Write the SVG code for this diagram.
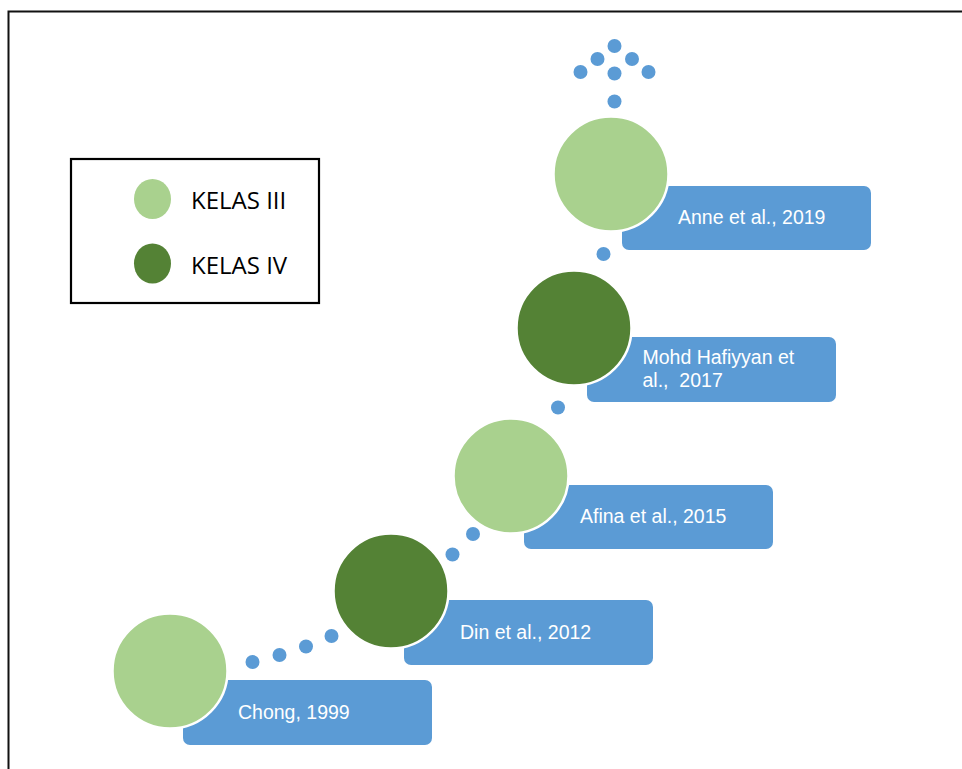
<svg xmlns="http://www.w3.org/2000/svg" width="962" height="769" viewBox="0 0 962 769">
<style>
.box{fill:#5B9BD5}
.lt{fill:#A9D18E;stroke:#fff;stroke-width:2.5}
.dk{fill:#548235;stroke:#fff;stroke-width:2.5}
.lbl{font-family:"Liberation Sans","Open Sans",sans-serif;font-size:19.5px;fill:#fff}
.leg{font-family:"Open Sans","Liberation Sans",sans-serif;font-size:24px;fill:#000}
.dot{fill:#5B9BD5}
</style>
<rect width="962" height="769" fill="#fff"/>
<path d="M8.5,769 V11.5 H962" fill="none" stroke="#111" stroke-width="2"/>
<g id="legend">
<rect x="71" y="159" width="248" height="144" fill="#fff" stroke="#000" stroke-width="2.2"/>
<ellipse cx="152.5" cy="199" rx="18.5" ry="20" fill="#A9D18E"/>
<text class="leg" x="191" y="209">KELAS III</text>
<ellipse cx="152.5" cy="263.5" rx="18.5" ry="20" fill="#548235"/>
<text class="leg" x="191" y="274">KELAS IV</text>
</g>
<g id="connectors">
<circle class="dot" cx="252.5" cy="662" r="7"/>
<circle class="dot" cx="279.5" cy="655" r="7"/>
<circle class="dot" cx="306" cy="646.5" r="7"/>
<circle class="dot" cx="331.5" cy="636" r="7"/>
<circle class="dot" cx="452.5" cy="554.5" r="7"/>
<circle class="dot" cx="473" cy="534" r="7"/>
<circle class="dot" cx="558" cy="407.5" r="7"/>
<circle class="dot" cx="603.5" cy="254" r="7"/>
<circle class="dot" cx="614.5" cy="101.5" r="7"/>
<circle class="dot" cx="580.5" cy="72" r="7"/>
<circle class="dot" cx="614.5" cy="73.5" r="7"/>
<circle class="dot" cx="648.5" cy="72" r="7"/>
<circle class="dot" cx="597.5" cy="59" r="7"/>
<circle class="dot" cx="632" cy="59" r="7"/>
<circle class="dot" cx="614.5" cy="46" r="7"/>
</g>
<g id="chong">
<rect class="box" x="183" y="680" width="249" height="65" rx="7"/>
<circle class="lt" cx="170" cy="671" r="57.5"/>
<text class="lbl" x="238" y="719">Chong, 1999</text>
</g>
<g id="din">
<rect class="box" x="404" y="600" width="249" height="65" rx="7"/>
<circle class="dk" cx="391" cy="591" r="57.5"/>
<text class="lbl" x="460" y="639">Din et al., 2012</text>
</g>
<g id="afina">
<rect class="box" x="524" y="485" width="249" height="64" rx="7"/>
<circle class="lt" cx="511" cy="476" r="57.5"/>
<text class="lbl" x="580" y="523">Afina et al., 2015</text>
</g>
<g id="mohd">
<rect class="box" x="587" y="337" width="249" height="65" rx="7"/>
<circle class="dk" cx="574" cy="328" r="57.5"/>
<text class="lbl" x="642.5" y="364" xml:space="preserve"><tspan x="642.5" y="364">Mohd Hafiyyan et</tspan><tspan x="642.5" y="387">al.,  2017</tspan></text>
</g>
<g id="anne">
<rect class="box" x="622" y="186" width="249" height="64" rx="7"/>
<circle class="lt" cx="611" cy="174" r="57.5"/>
<text class="lbl" x="678" y="224">Anne et al., 2019</text>
</g>
</svg>
